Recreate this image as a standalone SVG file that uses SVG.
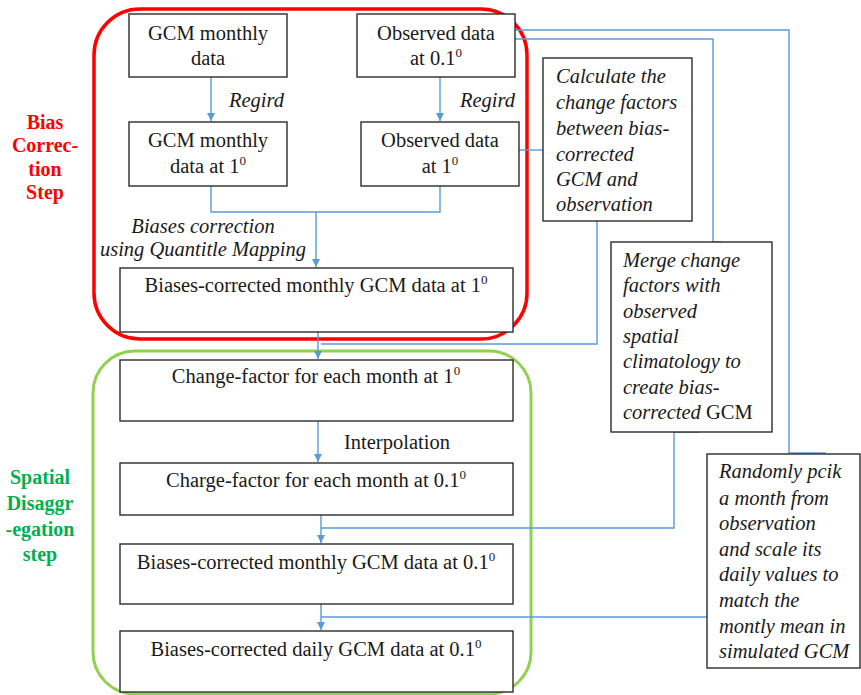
<svg xmlns="http://www.w3.org/2000/svg" width="861" height="695" viewBox="0 0 861 695" font-family="Liberation Serif">
<style>
  .box { fill: #ffffff; stroke: #2b2b2b; stroke-width: 1.4; }
  .t { font-size: 20.5px; fill: #1a1a1a; }
  .c { text-anchor: middle; }
  .i { font-style: italic; }
  .sup { font-size: 13px; }
  .conn { fill: none; stroke: #5b9bd5; stroke-width: 1.4; }
  .red { fill: #ff0000; font-weight: bold; font-size: 20px; text-anchor: middle; }
  .grn { fill: #00b050; font-weight: bold; font-size: 20px; text-anchor: middle; }
</style>
<defs>
  <marker id="arr" viewBox="0 0 10 10" refX="10" refY="5" markerWidth="8" markerHeight="8" markerUnits="userSpaceOnUse" orient="auto">
    <path d="M0,0 L10,5 L0,10 Z" fill="#5b9bd5"/>
  </marker>
</defs>
<rect width="861" height="695" fill="#ffffff"/>

<!-- group frames -->
<g id="bias-correction-group">
  <rect x="94" y="9" width="433" height="330" rx="46" ry="46" fill="none" stroke="#ff0000" stroke-width="3.5"/>
  <text class="red" font-family="Liberation Serif"><tspan x="45" y="129">Bias</tspan><tspan x="45" y="152">Correc-</tspan><tspan x="45" y="176">tion</tspan><tspan x="45" y="199">Step</tspan></text>
</g>
<g id="spatial-disaggregation-group">
  <rect x="93" y="351" width="438" height="343" rx="42" ry="42" fill="none" stroke="#92d050" stroke-width="3"/>
  <text class="grn" font-family="Liberation Serif"><tspan x="40" y="484">Spatial</tspan><tspan x="40" y="510">Disaggr</tspan><tspan x="40" y="536">-egation</tspan><tspan x="40" y="561">step</tspan></text>
</g>

<!-- connectors -->
<g id="connectors">
  <path class="conn" d="M211,77 V121" marker-end="url(#arr)"/>
  <path class="conn" d="M440,77 V121" marker-end="url(#arr)"/>
  <path class="conn" d="M211,186 V212 H440 V186"/>
  <path class="conn" d="M316,212 V267" marker-end="url(#arr)"/>
  <path class="conn" d="M318,332 V359" marker-end="url(#arr)"/>
  <path class="conn" d="M318,421 V462" marker-end="url(#arr)"/>
  <path class="conn" d="M321,515 V543" marker-end="url(#arr)"/>
  <path class="conn" d="M321,604 V630" marker-end="url(#arr)"/>
  <path class="conn" d="M519,150 H543"/>
  <path class="conn" d="M597,221 V344 H321"/>
  <path class="conn" d="M515,30 H789 V453 H826"/>
  <path class="conn" d="M515,39 H713 V242 H722"/>
  <path class="conn" d="M699,432 H674 V528 H321"/>
  <path class="conn" d="M707,617 H321"/>
</g>

<!-- nodes -->
<g id="gcm-monthly" font-family="Liberation Serif">
  <rect class="box" x="129" y="14" width="158" height="63"/>
  <text class="t c"><tspan x="208" y="40">GCM monthly</tspan><tspan x="208" y="65">data</tspan></text>
</g>
<g id="observed-01" font-family="Liberation Serif">
  <rect class="box" x="357" y="14" width="158" height="63"/>
  <text class="t c"><tspan x="436" y="40">Observed data</tspan><tspan x="436" y="65">at 0.1<tspan class="sup" dy="-8">0</tspan></tspan></text>
</g>
<g id="regird-labels" font-family="Liberation Serif">
  <text class="t i" x="229" y="107">Regird</text>
  <text class="t i" x="460" y="107">Regird</text>
</g>
<g id="gcm-monthly-1" font-family="Liberation Serif">
  <rect class="box" x="129" y="122" width="158" height="64"/>
  <text class="t c"><tspan x="208" y="147">GCM monthly</tspan><tspan x="208" y="173">data at 1<tspan class="sup" dy="-8">0</tspan></tspan></text>
</g>
<g id="observed-1" font-family="Liberation Serif">
  <rect class="box" x="361" y="122" width="158" height="64"/>
  <text class="t c"><tspan x="440" y="147">Observed data</tspan><tspan x="440" y="173">at 1<tspan class="sup" dy="-8">0</tspan></tspan></text>
</g>
<g id="bias-correction-label" font-family="Liberation Serif">
  <text class="t i c"><tspan x="203" y="233">Biases correction</tspan><tspan x="203" y="256">using Quantitle Mapping</tspan></text>
</g>
<g id="bias-corrected-monthly-1" font-family="Liberation Serif">
  <rect class="box" x="120" y="268" width="393" height="64"/>
  <text class="t c" x="316" y="292">Biases-corrected  monthly GCM data at 1<tspan class="sup" dy="-8">0</tspan></text>
</g>
<g id="calculate-change-factors" font-family="Liberation Serif">
  <rect class="box" x="543" y="58" width="149" height="163"/>
  <text class="t i"><tspan x="556" y="83">Calculate the</tspan><tspan x="556" y="109">change factors</tspan><tspan x="556" y="135">between bias-</tspan><tspan x="556" y="161">corrected</tspan><tspan x="556" y="186">GCM and</tspan><tspan x="556" y="211">observation</tspan></text>
</g>
<g id="merge-change-factors" font-family="Liberation Serif">
  <rect class="box" x="611" y="242" width="161" height="190"/>
  <text class="t"><tspan class="i" x="623" y="267">Merge change</tspan><tspan class="i" x="623" y="292">factors with</tspan><tspan class="i" x="623" y="318">observed</tspan><tspan class="i" x="623" y="343">spatial</tspan><tspan class="i" x="623" y="368">climatology to</tspan><tspan class="i" x="623" y="394">create bias-</tspan><tspan class="i" x="623" y="419">corrected</tspan><tspan> GCM</tspan></text>
</g>
<g id="randomly-pick" font-family="Liberation Serif">
  <rect class="box" x="707" y="454" width="153" height="214"/>
  <text class="t i"><tspan x="719" y="478">Randomly pcik</tspan><tspan x="719" y="505">a month  from</tspan><tspan x="719" y="530">observation</tspan><tspan x="719" y="556">and scale its</tspan><tspan x="719" y="581">daily values to</tspan><tspan x="719" y="607">match the</tspan><tspan x="719" y="633">montly mean in</tspan><tspan x="719" y="658">simulated GCM</tspan></text>
</g>
<g id="change-factor-1" font-family="Liberation Serif">
  <rect class="box" x="120" y="360" width="393" height="61"/>
  <text class="t c" x="316" y="383">Change-factor for each month at 1<tspan class="sup" dy="-8">0</tspan></text>
</g>
<g id="interpolation-label" font-family="Liberation Serif">
  <text class="t" x="344" y="449">Interpolation</text>
</g>
<g id="charge-factor-01" font-family="Liberation Serif">
  <rect class="box" x="120" y="463" width="393" height="52"/>
  <text class="t c" x="316" y="487">Charge-factor  for each month at 0.1<tspan class="sup" dy="-8">0</tspan></text>
</g>
<g id="bias-corrected-monthly-01" font-family="Liberation Serif">
  <rect class="box" x="120" y="544" width="393" height="60"/>
  <text class="t c" x="316" y="569">Biases-corrected  monthly GCM data at 0.1<tspan class="sup" dy="-8">0</tspan></text>
</g>
<g id="bias-corrected-daily-01" font-family="Liberation Serif">
  <rect class="box" x="120" y="631" width="393" height="61"/>
  <text class="t c" x="316" y="656">Biases-corrected  daily GCM data at 0.1<tspan class="sup" dy="-8">0</tspan></text>
</g>
</svg>
